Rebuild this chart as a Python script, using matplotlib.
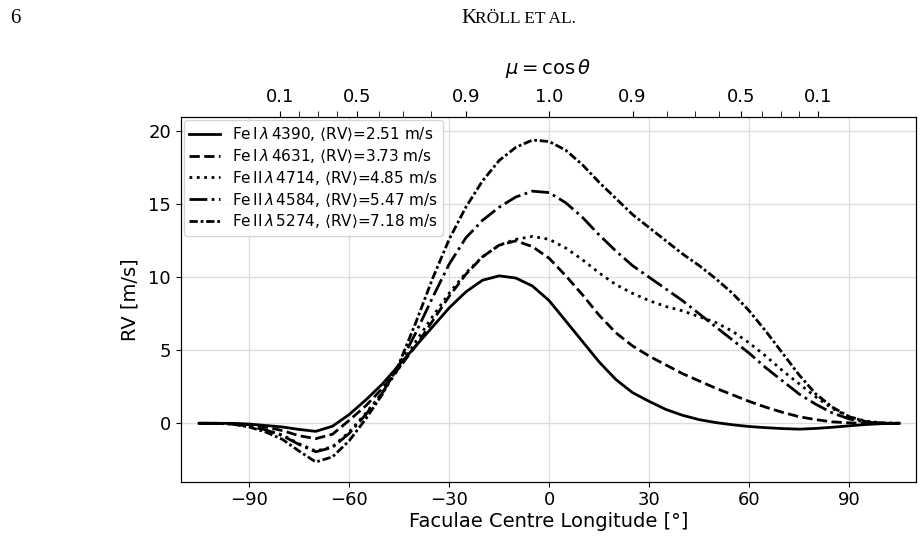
# RV of a single facula vs centre longitude, five Fe lines
import numpy as np
import matplotlib
matplotlib.use('Agg')
import matplotlib.pyplot as plt

# longitude grid [deg]
lon = [-105, -100, -95, -90, -85, -80, -75, -70, -65, -60, -55, -50, -45, -40,
       -35, -30, -25, -20, -15, -10, -5, 0, 5, 10, 15, 20, 25, 30, 35, 40,
       45, 50, 55, 60, 65, 70, 75, 80, 85, 90, 95, 100, 105]

rv_4390 = [0, 0, 0, -0.05, -0.15, -0.25, -0.42, -0.55, -0.2, 0.6, 1.6, 2.7, 4.0, 5.3,
           6.6, 7.9, 9.0, 9.8, 10.1, 9.95, 9.4, 8.4, 7.0, 5.6, 4.2, 3.0, 2.1, 1.5, 0.95, 0.55,
           0.25, 0.05, -0.1, -0.22, -0.3, -0.36, -0.4, -0.35, -0.27, -0.17, -0.08, -0.02, 0]
rv_4631 = [0, 0, -0.02, -0.1, -0.25, -0.5, -0.85, -1.05, -0.75, 0.2, 1.2, 2.4, 3.8, 5.3,
           7.0, 8.7, 10.2, 11.4, 12.2, 12.5, 12.1, 11.3, 10.1, 8.8, 7.4, 6.2, 5.3, 4.6, 4.0, 3.4,
           2.9, 2.4, 1.95, 1.5, 1.1, 0.75, 0.45, 0.25, 0.1, 0.03, 0, 0, 0]
rv_4714 = [0, 0, -0.05, -0.2, -0.45, -0.8, -1.4, -1.9, -1.6, -0.6, 0.7, 2.1, 3.8, 5.6,
           7.3, 8.9, 10.3, 11.4, 12.2, 12.6, 12.8, 12.6, 12.0, 11.2, 10.3, 9.5, 8.9, 8.4, 8.0, 7.7,
           7.3, 6.9, 6.3, 5.5, 4.6, 3.6, 2.7, 1.8, 1.0, 0.45, 0.15, 0.03, 0]
rv_4584 = [0, 0, -0.05, -0.2, -0.45, -0.85, -1.45, -1.95, -1.65, -0.7, 0.6, 2.1, 4.0, 6.2,
           8.6, 10.9, 12.7, 13.9, 14.8, 15.5, 15.9, 15.8, 15.1, 14.1, 12.9, 11.8, 10.8, 10.0, 9.2, 8.4,
           7.5, 6.6, 5.7, 4.8, 3.8, 2.9, 2.0, 1.3, 0.7, 0.3, 0.08, 0.01, 0]
rv_5274 = [0, 0, -0.05, -0.25, -0.6, -1.1, -1.9, -2.65, -2.3, -1.2, 0.3, 2.0, 4.1, 6.9,
           9.9, 12.6, 14.8, 16.6, 18.0, 18.9, 19.4, 19.3, 18.7, 17.7, 16.5, 15.4, 14.3, 13.4, 12.5, 11.6,
           10.8, 9.9, 8.9, 7.7, 6.3, 4.8, 3.3, 2.0, 1.1, 0.45, 0.12, 0.02, 0]

labels = [r'Fe$\,$I$\,\lambda\,$4390, $\langle$RV$\rangle$=2.51 m/s',
          r'Fe$\,$I$\,\lambda\,$4631, $\langle$RV$\rangle$=3.73 m/s',
          r'Fe$\,$II$\,\lambda\,$4714, $\langle$RV$\rangle$=4.85 m/s',
          r'Fe$\,$II$\,\lambda\,$4584, $\langle$RV$\rangle$=5.47 m/s',
          r'Fe$\,$II$\,\lambda\,$5274, $\langle$RV$\rangle$=7.18 m/s']

# mu tick positions on the longitude axis
mu_major_lon = [-80.6, -57.5, -25.0, 0.0, 25.0, 57.5, 80.6]
mu_major_lab = ['0.1', '0.5', '0.9', '1.0', '0.9', '0.5', '0.1']
mu_minor_lon = [-75.0, -69.4, -63.7, -51.0, -43.8, -35.4,
                35.4, 43.8, 51.0, 63.7, 69.4, 75.0]

fig = plt.figure(figsize=(9.24, 5.45), dpi=100)
ax = fig.add_axes([0.1956, 0.1161, 0.7957, 0.6698])

styles = ['-', '--', ':', '-.', (0, (3, 1, 1, 1))]
all_rv = [rv_4390, rv_4631, rv_4714, rv_4584, rv_5274]
for rv, ls, lab in zip(all_rv, styles, labels):
    ax.plot(lon, rv, color='k', linestyle=ls, linewidth=2, label=lab)

ax.set_xlim(-110.5, 110)
ax.set_ylim(-4, 21)
ax.set_xticks([-90, -60, -30, 0, 30, 60, 90])
ax.set_xticklabels(['\u221290', '\u221260', '\u221230', '0', '30', '60', '90'])
ax.set_yticks([0, 5, 10, 15, 20])
ax.tick_params(labelsize=13)
ax.grid(True, color='#dddddd', linewidth=1)
ax.set_axisbelow(True)
ax.set_xlabel('Faculae Centre Longitude [°]', fontsize=14, labelpad=2)
ax.set_ylabel('RV [m/s]', fontsize=14, labelpad=6)

leg = ax.legend(loc='upper left', fontsize=11, borderaxespad=0.2,
                handlelength=2.0, labelspacing=0.25, borderpad=0.35)

# top axis in mu
ax2 = ax.twiny()
ax2.set_xlim(ax.get_xlim())
ax2.set_xticks(mu_major_lon)
ax2.set_xticklabels(mu_major_lab)
ax2.set_xticks(mu_minor_lon, minor=True)
ax2.tick_params(which='both', labelsize=13, length=4)
ax2.set_xlabel(r'$\mu = \cos\theta$', fontsize=14, labelpad=10)

# page header (fake small caps)
fig.text(0.011, 0.957, '6', fontsize=15, family='Liberation Serif', va='baseline')
fig.text(0.499, 0.957, 'K', fontsize=15, family='Liberation Serif', va='baseline')
fig.text(0.5145, 0.957, 'RÖLL ET AL.', fontsize=12.5, family='Liberation Serif',
         va='baseline')

fig.savefig('out.png', dpi=100)
